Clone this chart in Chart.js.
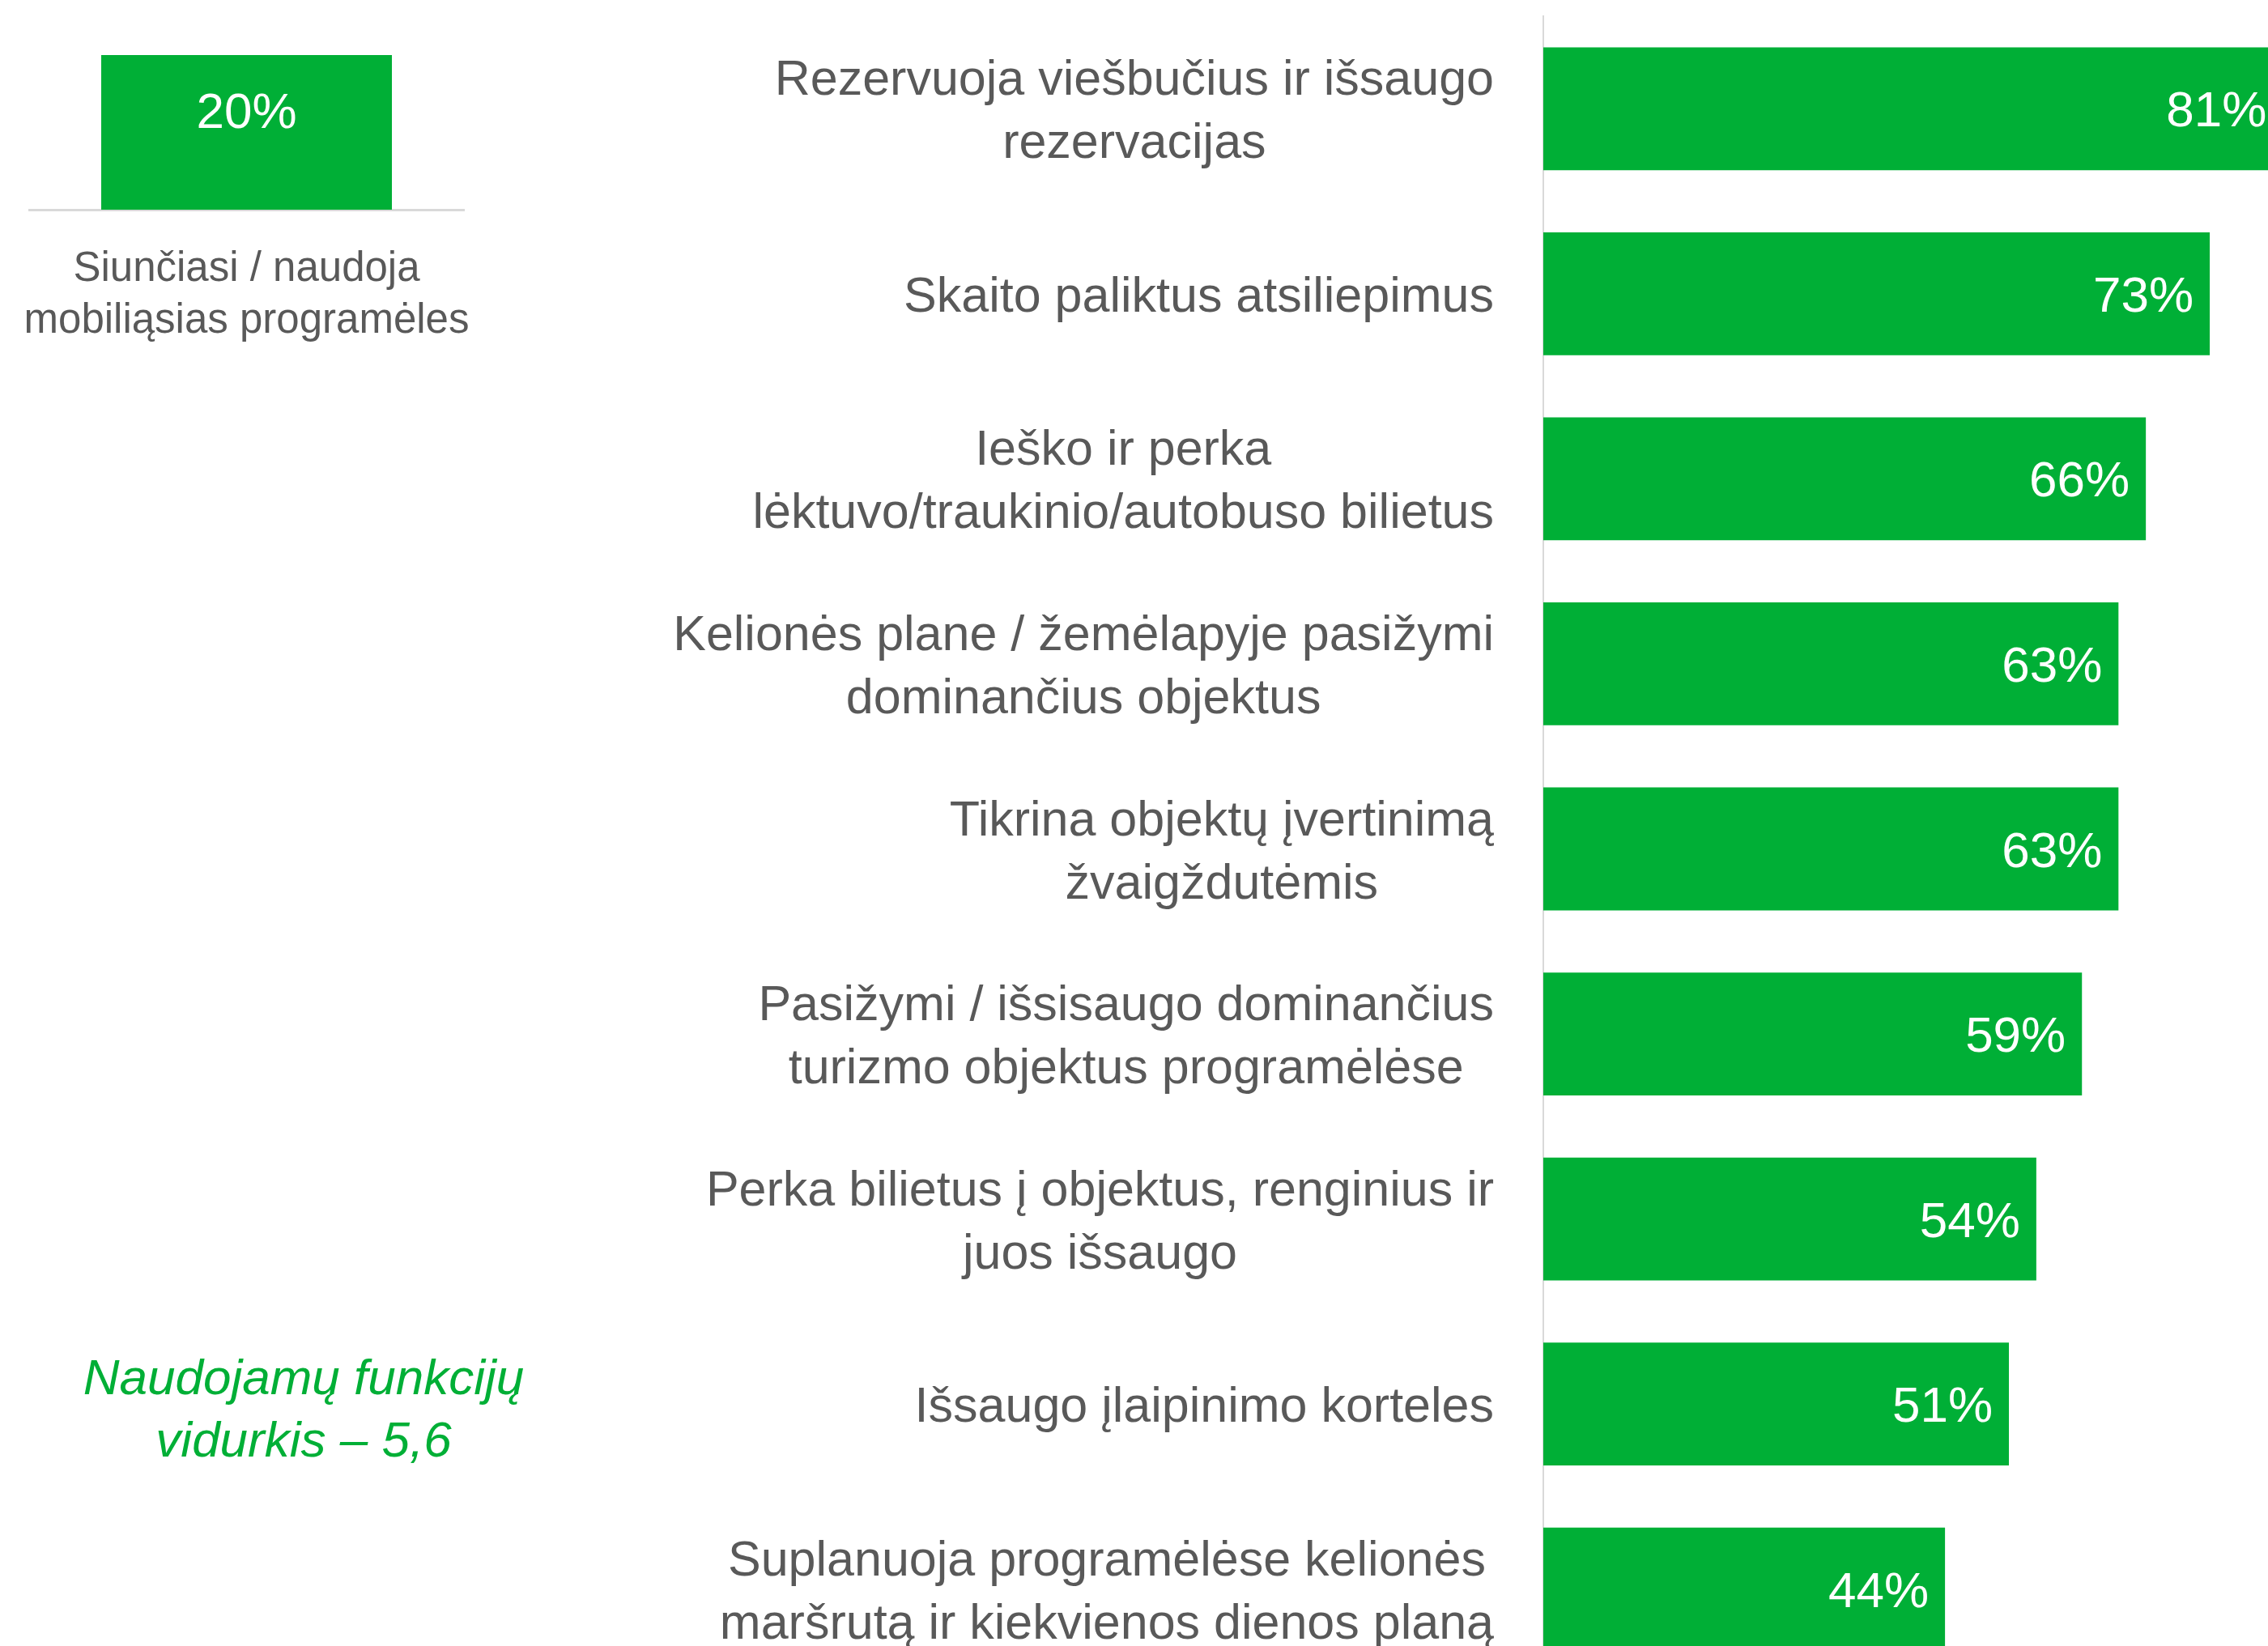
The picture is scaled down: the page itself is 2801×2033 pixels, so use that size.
<!DOCTYPE html>
<html>
<head>
<meta charset="utf-8">
<script src="https://cdn.jsdelivr.net/npm/chart.js@4.4.1/dist/chart.umd.min.js"></script>
<style>
  html, body { margin: 0; padding: 0; background: #ffffff; overflow: hidden; width: 2801px; height: 2033px; }
  #main { position: absolute; left: 0; top: 0; }
  #mini { position: absolute; left: 0; top: 0; }
</style>
</head>
<body>
<canvas id="main" width="2830" height="2100"></canvas>
<canvas id="mini" width="640" height="480"></canvas>
<script>
// ---- data ----
const categories = [
  ["Rezervuoja viešbučius ir išsaugo", "rezervacijas"],
  ["Skaito paliktus atsiliepimus"],
  ["Ieško ir perka", "lėktuvo/traukinio/autobuso bilietus"],
  ["Kelionės plane / žemėlapyje pasižymi", "dominančius objektus"],
  ["Tikrina objektų įvertinimą", "žvaigždutėmis"],
  ["Pasižymi / išsisaugo dominančius", "turizmo objektus programėlėse"],
  ["Perka bilietus į objektus, renginius ir", "juos išsaugo"],
  ["Išsaugo įlaipinimo korteles"],
  ["Suplanuoja programėlėse kelionės", "maršrutą ir kiekvienos dienos planą"]
];
const values = [81, 73, 66, 63, 63, 59, 54, 51, 44];

const miniCategories = [["Siunčiasi / naudoja", "mobiliąsias programėles"]];
const miniValues = [20];

const averageNote = ["Naudojamų funkcijų", "vidurkis – 5,6"];

// ---- styles ----
const GREEN = '#00AF36';
const GREY_TEXT = '#595959';
const AXIS_GREY = '#d9d9d9';
const FONT = '"Liberation Sans", Arial, Helvetica, sans-serif';

const mainLabels = {
  id: 'mainLabels',
  afterDatasetsDraw(chart) {
    const ctx = chart.ctx;
    const meta = chart.getDatasetMeta(0);
    const yScale = chart.scales.y;
    ctx.save();
    // value labels inside bar ends
    ctx.font = '62px ' + FONT;
    ctx.fillStyle = '#ffffff';
    ctx.textAlign = 'right';
    ctx.textBaseline = 'alphabetic';
    meta.data.forEach((bar, i) => {
      ctx.fillText(values[i] + '%', bar.x - 20, bar.y + 22);
    });
    // category labels to the left of the axis
    ctx.font = '61px ' + FONT;
    ctx.fillStyle = GREY_TEXT;
    ctx.textAlign = 'center';
    const rightEdge = chart.chartArea.left - 61;
    const lineH = 78;
    categories.forEach((lines, i) => {
      const cy = yScale.getPixelForValue(i);
      let maxW = 0;
      lines.forEach(l => { maxW = Math.max(maxW, ctx.measureText(l).width); });
      const cx = rightEdge - maxW / 2;
      const n = lines.length;
      lines.forEach((l, k) => {
        const ly = cy + (k - (n - 1) / 2) * lineH + 22;
        ctx.fillText(l, cx, ly);
      });
    });
    // average note
    ctx.font = 'italic 62px ' + FONT;
    ctx.fillStyle = GREEN;
    ctx.textAlign = 'center';
    averageNote.forEach((l, k) => {
      ctx.fillText(l, 375, 1722 + k * 77);
    });
    ctx.restore();
  }
};

new Chart(document.getElementById('main'), {
  type: 'bar',
  data: {
    labels: categories,
    datasets: [{
      data: values,
      backgroundColor: GREEN,
      borderWidth: 0,
      categoryPercentage: 1.0,
      barPercentage: 0.664
    }]
  },
  options: {
    indexAxis: 'y',
    responsive: false,
    animation: false,
    devicePixelRatio: 1,
    layout: { padding: { left: 1906, right: 22, top: 20, bottom: 23 } },
    plugins: { legend: { display: false }, tooltip: { enabled: false } },
    scales: {
      x: { display: false, min: 0, max: 80 },
      y: {
        display: true,
        ticks: { display: false },
        grid: { display: false },
        border: { display: true, color: AXIS_GREY, width: 2 },
        afterFit(s) { s.width = 0; }
      }
    }
  },
  plugins: [mainLabels]
});

const miniLabels = {
  id: 'miniLabels',
  afterDatasetsDraw(chart) {
    const ctx = chart.ctx;
    const meta = chart.getDatasetMeta(0);
    const xScale = chart.scales.x;
    ctx.save();
    ctx.font = '62px ' + FONT;
    ctx.fillStyle = '#ffffff';
    ctx.textAlign = 'center';
    meta.data.forEach((bar, i) => {
      ctx.fillText(miniValues[i] + '%', bar.x, bar.y + 90);
    });
    ctx.font = '51px ' + FONT;
    ctx.fillStyle = GREY_TEXT;
    miniCategories.forEach((lines, i) => {
      const cx = xScale.getPixelForValue(i);
      lines.forEach((l, k) => {
        ctx.fillText(l, cx, chart.chartArea.bottom + 88 + k * 64);
      });
    });
    ctx.restore();
  }
};

new Chart(document.getElementById('mini'), {
  type: 'bar',
  data: {
    labels: miniCategories,
    datasets: [{
      data: miniValues,
      backgroundColor: GREEN,
      borderWidth: 0,
      categoryPercentage: 1.0,
      barPercentage: 0.6685
    }]
  },
  options: {
    responsive: false,
    animation: false,
    devicePixelRatio: 1,
    layout: { padding: { left: 36, right: 640 - 573, top: 68, bottom: 480 - 259 } },
    plugins: { legend: { display: false }, tooltip: { enabled: false } },
    scales: {
      y: { display: false, min: 0, max: 20 },
      x: {
        display: true,
        ticks: { display: false },
        grid: { display: false },
        border: { display: true, color: AXIS_GREY, width: 3 },
        afterFit(s) { s.height = 0; }
      }
    }
  },
  plugins: [miniLabels]
});
</script>
</body>
</html>
